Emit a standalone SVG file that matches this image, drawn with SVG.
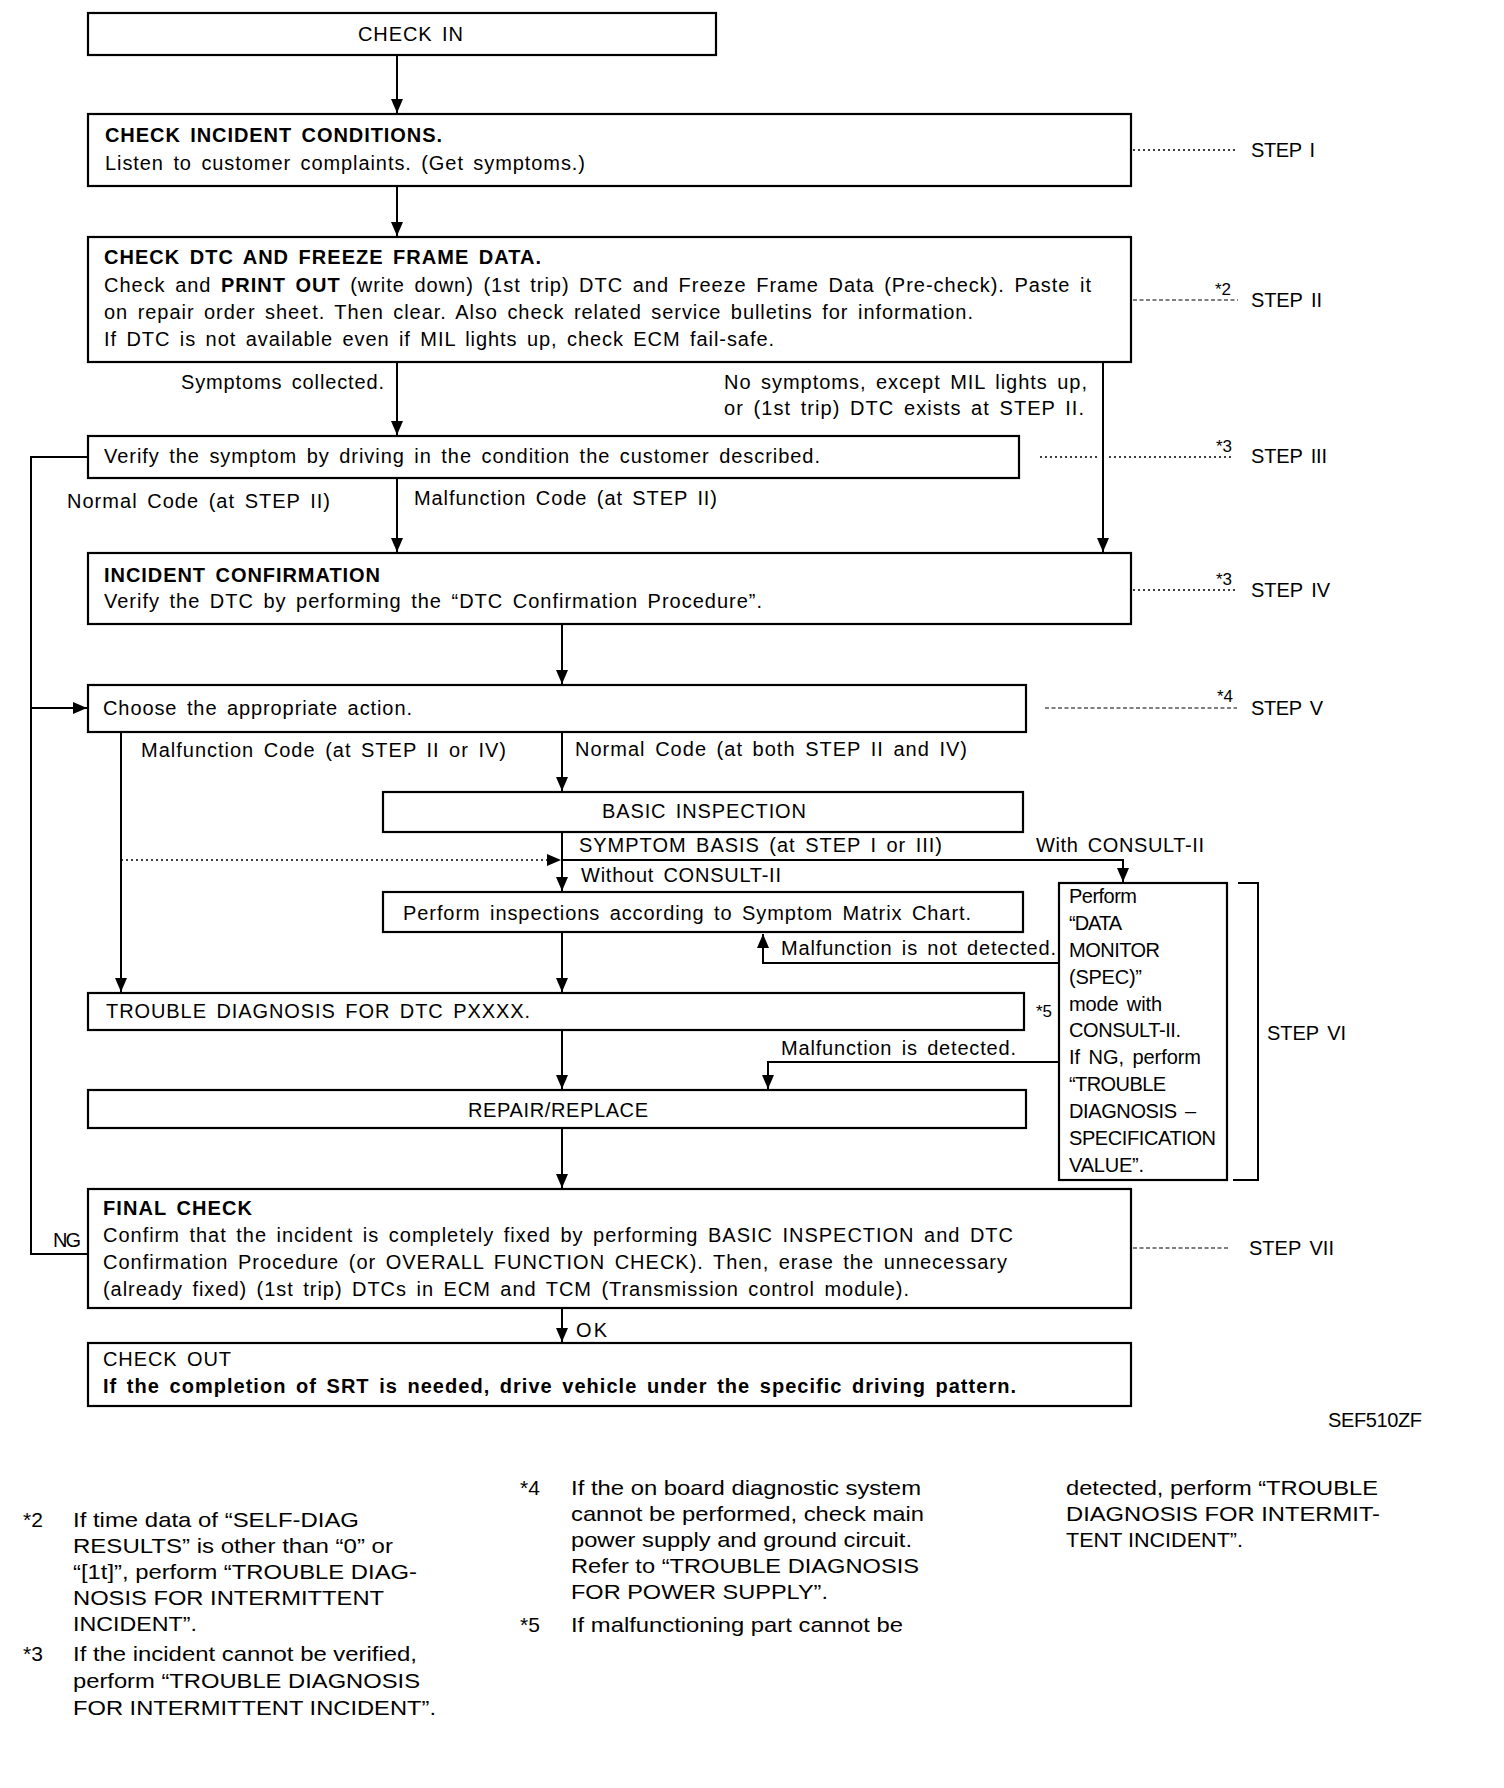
<svg xmlns="http://www.w3.org/2000/svg" width="1504" height="1788" viewBox="0 0 1504 1788">
<style>
text{font-family:"Liberation Sans",Arial,sans-serif;font-size:20px;word-spacing:3px;fill:#000}
.b{font-weight:bold}
.pb{font-weight:bold}
.ast{font-size:17px}
.fn{font-size:21px;word-spacing:0}
.box{fill:#fff;stroke:#000;stroke-width:2.2}
.ln{fill:none;stroke:#000;stroke-width:2}
.dot{fill:none;stroke:#000;stroke-width:1.6;stroke-dasharray:2 3}
.dash{fill:none;stroke:#000;stroke-width:1.2;stroke-dasharray:4 2.5}
</style>
<defs>
<marker id="ah" viewBox="0 0 14 12" refX="14" refY="6" markerWidth="14" markerHeight="12" markerUnits="userSpaceOnUse" orient="auto">
<path d="M0,0 L14,6 L0,12 z" fill="#000"/>
</marker>
</defs>
<rect width="1504" height="1788" fill="#fff"/>

<g id="connectors">
<path class="ln" d="M397,55 V113" marker-end="url(#ah)"/>
<path class="ln" d="M397,186 V236" marker-end="url(#ah)"/>
<path class="ln" d="M397,362 V435" marker-end="url(#ah)"/>
<path class="ln" d="M1103,362 V552" marker-end="url(#ah)"/>
<path class="ln" d="M397,478 V552" marker-end="url(#ah)"/>
<path class="ln" d="M562,624 V684" marker-end="url(#ah)"/>
<path class="ln" d="M88,457 H31 V1254 H88"/>
<path class="ln" d="M31,708 H87" marker-end="url(#ah)"/>
<path class="ln" d="M121,732 V992" marker-end="url(#ah)"/>
<path class="ln" d="M562,732 V791" marker-end="url(#ah)"/>
<path class="ln" d="M562,832 V891" marker-end="url(#ah)"/>
<path class="ln" d="M562,860 H1123 V882" marker-end="url(#ah)"/>
<path class="dot" d="M121,860 H561" marker-end="url(#ah)"/>
<path class="ln" d="M1059,963 H763 V934" marker-end="url(#ah)"/>
<path class="ln" d="M562,932 V992" marker-end="url(#ah)"/>
<path class="ln" d="M1059,1062 H768 V1089" marker-end="url(#ah)"/>
<path class="ln" d="M562,1030 V1089" marker-end="url(#ah)"/>
<path class="ln" d="M562,1128 V1188" marker-end="url(#ah)"/>
<path class="ln" d="M562,1308 V1342" marker-end="url(#ah)"/>
<path class="ln" d="M1238,883 H1258 V1180 H1233" stroke-width="2.4"/>
<path class="dot" d="M1133,150 H1238"/>
<path class="dash" d="M1133,300 H1238"/>
<path class="dot" d="M1040,457 H1097 M1109,457 H1233"/>
<path class="dot" d="M1133,590 H1237"/>
<path class="dash" d="M1045,708 H1237"/>
<path class="dash" d="M1133,1248 H1230"/>
</g>

<g id="checkin">
<rect class="box" x="88" y="13" width="628" height="42"/>
<text x="358" y="41" textLength="105">CHECK IN</text>
</g>

<g id="step1">
<rect class="box" x="88" y="114" width="1043" height="72"/>
<text class="b" x="105" y="142" textLength="337">CHECK INCIDENT CONDITIONS.</text>
<text x="105" y="170" textLength="480">Listen to customer complaints. (Get symptoms.)</text>
</g>

<g id="step2">
<rect class="box" x="88" y="237" width="1043" height="125"/>
<text class="b" x="104" y="264" textLength="437">CHECK DTC AND FREEZE FRAME DATA.</text>
<text x="104" y="292" textLength="987">Check and <tspan class="pb">PRINT OUT</tspan> (write down) (1st trip) DTC and Freeze Frame Data (Pre-check). Paste it</text>
<text x="104" y="319" textLength="869">on repair order sheet. Then clear. Also check related service bulletins for information.</text>
<text x="104" y="346" textLength="670">If DTC is not available even if MIL lights up, check ECM fail-safe.</text>
</g>

<g id="labels-step2">
<text x="384" y="389" text-anchor="end" textLength="203">Symptoms collected.</text>
<text x="724" y="389" textLength="363">No symptoms, except MIL lights up,</text>
<text x="724" y="415" textLength="360">or (1st trip) DTC exists at STEP II.</text>
</g>

<g id="verify">
<rect class="box" x="88" y="436" width="931" height="42"/>
<text x="104" y="463" textLength="716">Verify the symptom by driving in the condition the customer described.</text>
</g>

<g id="labels-verify">
<text x="67" y="508" textLength="263">Normal Code (at STEP II)</text>
<text x="414" y="505" textLength="303">Malfunction Code (at STEP II)</text>
</g>

<g id="incident">
<rect class="box" x="88" y="553" width="1043" height="71"/>
<text class="b" x="104" y="582" textLength="276">INCIDENT CONFIRMATION</text>
<text x="104" y="608" textLength="658">Verify the DTC by performing the “DTC Confirmation Procedure”.</text>
</g>

<g id="choose">
<rect class="box" x="88" y="685" width="938" height="47"/>
<text x="103" y="715" textLength="309">Choose the appropriate action.</text>
</g>

<g id="labels-choose">
<text x="141" y="757" textLength="365">Malfunction Code (at STEP II or IV)</text>
<text x="575" y="756" textLength="392">Normal Code (at both STEP II and IV)</text>
</g>

<g id="basic">
<rect class="box" x="383" y="792" width="640" height="40"/>
<text x="602" y="818" textLength="204">BASIC INSPECTION</text>
</g>

<g id="labels-basic">
<text x="579" y="852" textLength="363">SYMPTOM BASIS (at STEP I or III)</text>
<text x="1036" y="852" textLength="168">With CONSULT-II</text>
<text x="581" y="882" textLength="200">Without CONSULT-II</text>
</g>

<g id="symptom-matrix">
<rect class="box" x="383" y="892" width="640" height="40"/>
<text x="403" y="920" textLength="568">Perform inspections according to Symptom Matrix Chart.</text>
</g>

<g id="labels-datamon">
<text x="781" y="955" textLength="275">Malfunction is not detected.</text>
<text x="1036" y="1017" class="ast">*5</text>
<text x="781" y="1055" textLength="235">Malfunction is detected.</text>
</g>

<g id="trouble">
<rect class="box" x="88" y="993" width="936" height="37"/>
<text x="106" y="1018" textLength="424">TROUBLE DIAGNOSIS FOR DTC PXXXX.</text>
</g>

<g id="repair">
<rect class="box" x="88" y="1090" width="938" height="38"/>
<text x="468" y="1117" textLength="180">REPAIR/REPLACE</text>
</g>

<g id="datamon">
<rect class="box" x="1059" y="883" width="168" height="297"/>
<text x="1069" y="903" textLength="68">Perform</text>
<text x="1069" y="930" textLength="53">“DATA</text>
<text x="1069" y="957" textLength="91">MONITOR</text>
<text x="1069" y="984" textLength="73">(SPEC)”</text>
<text x="1069" y="1011" textLength="93">mode with</text>
<text x="1069" y="1037" textLength="112">CONSULT-II.</text>
<text x="1069" y="1064" textLength="132">If NG, perform</text>
<text x="1069" y="1091" textLength="97">“TROUBLE</text>
<text x="1069" y="1118" textLength="127">DIAGNOSIS –</text>
<text x="1069" y="1145" textLength="147">SPECIFICATION</text>
<text x="1069" y="1172" textLength="75">VALUE”.</text>
</g>

<g id="final">
<rect class="box" x="88" y="1189" width="1043" height="119"/>
<text class="b" x="103" y="1215" textLength="149">FINAL CHECK</text>
<text x="103" y="1242" textLength="910">Confirm that the incident is completely fixed by performing BASIC INSPECTION and DTC</text>
<text x="103" y="1269" textLength="904">Confirmation Procedure (or OVERALL FUNCTION CHECK). Then, erase the unnecessary</text>
<text x="103" y="1296" textLength="806">(already fixed) (1st trip) DTCs in ECM and TCM (Transmission control module).</text>
</g>

<g id="labels-final">
<text x="53" y="1247" textLength="28">NG</text>
<text x="576" y="1337" textLength="31">OK</text>
</g>

<g id="checkout">
<rect class="box" x="88" y="1343" width="1043" height="63"/>
<text x="103" y="1366" textLength="128">CHECK OUT</text>
<text class="b" x="103" y="1393" textLength="913">If the completion of SRT is needed, drive vehicle under the specific driving pattern.</text>
</g>

<g id="steps">
<text x="1251" y="157" textLength="64">STEP I</text>
<text x="1215" y="295" class="ast">*2</text>
<text x="1251" y="307" textLength="71">STEP II</text>
<text x="1216" y="452" class="ast">*3</text>
<text x="1251" y="463" textLength="76">STEP III</text>
<text x="1216" y="585" class="ast">*3</text>
<text x="1251" y="597" textLength="79">STEP IV</text>
<text x="1217" y="702" class="ast">*4</text>
<text x="1251" y="715" textLength="72">STEP V</text>
<text x="1267" y="1040" textLength="79">STEP VI</text>
<text x="1249" y="1255" textLength="85">STEP VII</text>
<text x="1328" y="1427" textLength="94">SEF510ZF</text>
</g>

<g id="footnotes">
<text class="fn" x="23" y="1527">*2</text>
<text class="fn" x="73" y="1527" textLength="286" lengthAdjust="spacingAndGlyphs">If time data of “SELF-DIAG</text>
<text class="fn" x="73" y="1553" textLength="320" lengthAdjust="spacingAndGlyphs">RESULTS” is other than “0” or</text>
<text class="fn" x="73" y="1579" textLength="344" lengthAdjust="spacingAndGlyphs">“[1t]”, perform “TROUBLE DIAG-</text>
<text class="fn" x="73" y="1605" textLength="311" lengthAdjust="spacingAndGlyphs">NOSIS FOR INTERMITTENT</text>
<text class="fn" x="73" y="1631" textLength="124" lengthAdjust="spacingAndGlyphs">INCIDENT”.</text>
<text class="fn" x="23" y="1661">*3</text>
<text class="fn" x="73" y="1661" textLength="344" lengthAdjust="spacingAndGlyphs">If the incident cannot be verified,</text>
<text class="fn" x="73" y="1688" textLength="347" lengthAdjust="spacingAndGlyphs">perform “TROUBLE DIAGNOSIS</text>
<text class="fn" x="73" y="1715" textLength="363" lengthAdjust="spacingAndGlyphs">FOR INTERMITTENT INCIDENT”.</text>
<text class="fn" x="520" y="1495">*4</text>
<text class="fn" x="571" y="1495" textLength="350" lengthAdjust="spacingAndGlyphs">If the on board diagnostic system</text>
<text class="fn" x="571" y="1521" textLength="353" lengthAdjust="spacingAndGlyphs">cannot be performed, check main</text>
<text class="fn" x="571" y="1547" textLength="341" lengthAdjust="spacingAndGlyphs">power supply and ground circuit.</text>
<text class="fn" x="571" y="1573" textLength="348" lengthAdjust="spacingAndGlyphs">Refer to “TROUBLE DIAGNOSIS</text>
<text class="fn" x="571" y="1599" textLength="257" lengthAdjust="spacingAndGlyphs">FOR POWER SUPPLY”.</text>
<text class="fn" x="520" y="1632">*5</text>
<text class="fn" x="571" y="1632" textLength="332" lengthAdjust="spacingAndGlyphs">If malfunctioning part cannot be</text>
<text class="fn" x="1066" y="1495" textLength="312" lengthAdjust="spacingAndGlyphs">detected, perform “TROUBLE</text>
<text class="fn" x="1066" y="1521" textLength="314" lengthAdjust="spacingAndGlyphs">DIAGNOSIS FOR INTERMIT-</text>
<text class="fn" x="1066" y="1547" textLength="177" lengthAdjust="spacingAndGlyphs">TENT INCIDENT”.</text>
</g>
</svg>
